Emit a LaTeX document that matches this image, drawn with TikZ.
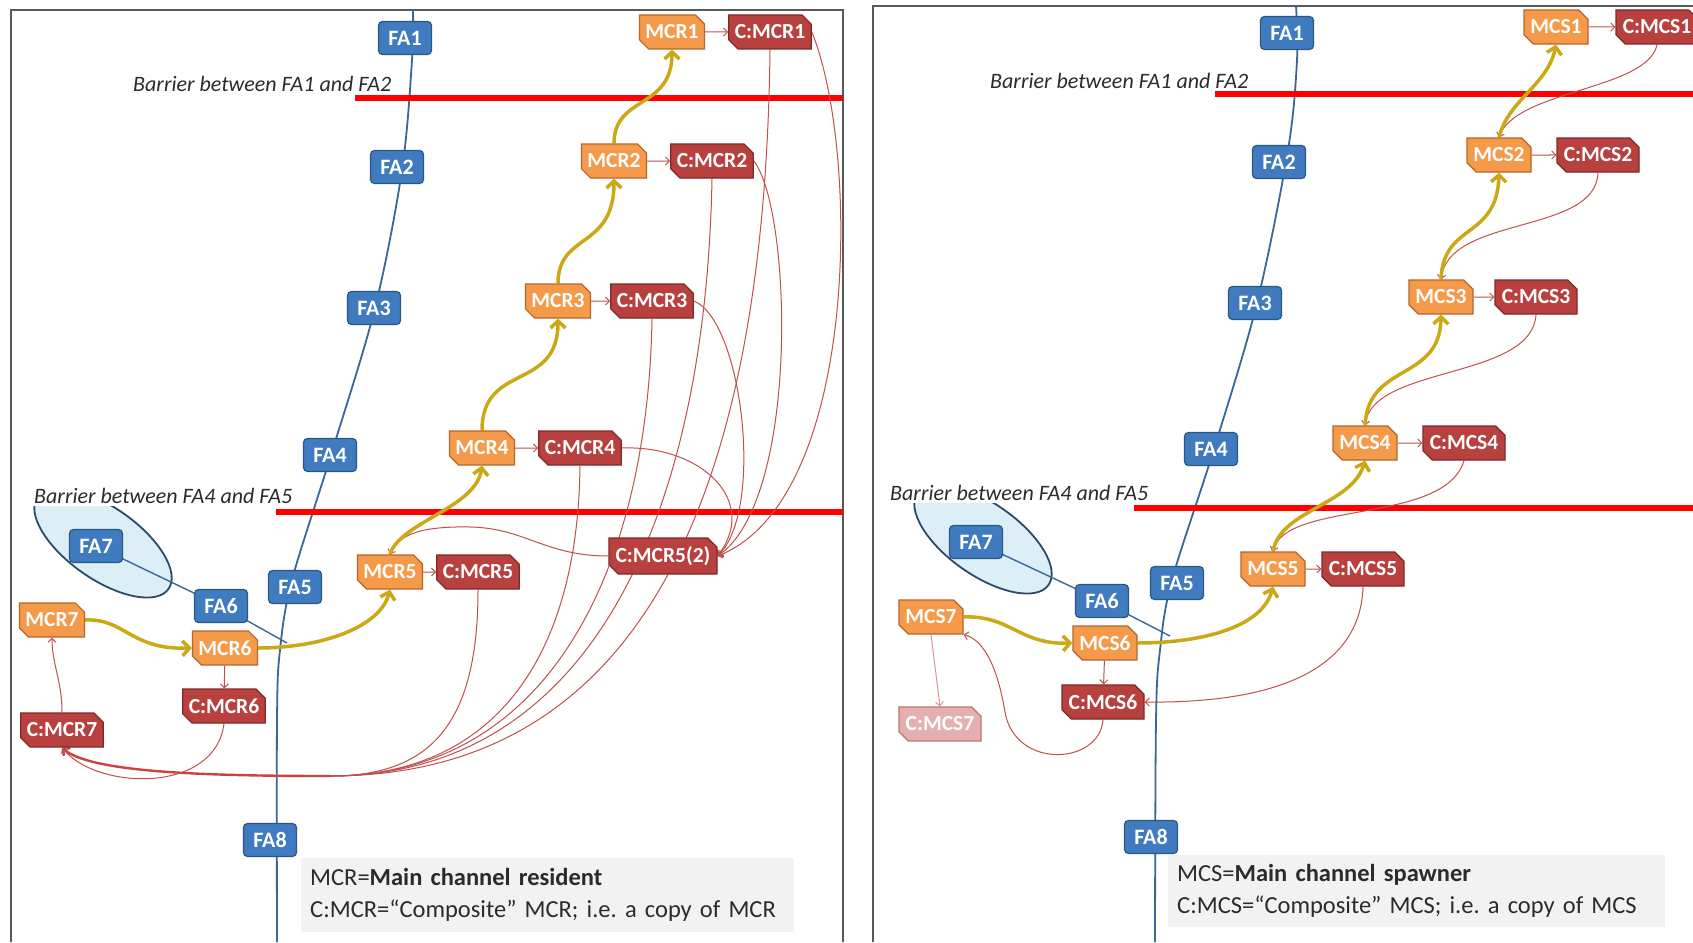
\documentclass[tikz,border=0pt]{standalone}
\usepackage{fontspec}
\setmainfont{Carlito}
\usetikzlibrary{shapes.misc,arrows.meta,backgrounds}
\frenchspacing
\definecolor{fablue}{HTML}{3F7BBE}
\definecolor{fablueb}{HTML}{2A5686}
\definecolor{mcor}{HTML}{F59A4A}
\definecolor{mcorb}{HTML}{B5662A}
\definecolor{cred}{HTML}{B8413F}
\definecolor{credb}{HTML}{7F2A28}
\definecolor{lpink}{HTML}{E4B0AF}
\definecolor{lpinkb}{HTML}{C07573}
\definecolor{ylw}{HTML}{CBA816}
\definecolor{thinr}{HTML}{C0504D}
\definecolor{tlgray}{HTML}{F2F2F2}
\definecolor{elfill}{HTML}{DCEFF6}
\definecolor{elline}{HTML}{2B4A6B}
\definecolor{tline}{HTML}{3A6797}
\definecolor{txtgray}{HTML}{2B2B2B}
\definecolor{barred}{HTML}{FF0000}
\newcommand\mynodefont{\fontsize{21.5}{21.5}\selectfont\bfseries}
\newcommand\myfafont{\fontsize{22}{22}\selectfont\bfseries}
\begin{document}
\begin{tikzpicture}[x=1pt,y=-1pt,
  fa/.style={draw=fablueb, line width=1.2pt, fill=fablue, rounded corners=4pt,
    minimum width=53pt, minimum height=33pt, inner sep=0pt, text=white, font=\myfafont},
  snipbase/.style={chamfered rectangle, chamfered rectangle corners={north east,south west},
    chamfered rectangle xsep=6pt, line width=1.2pt, inner sep=0pt, text=white,
    font=\mynodefont, minimum height=34pt},
  mcr/.style={snipbase, draw=mcorb, fill=mcor, minimum width=64pt},
  cmcr/.style={snipbase, draw=credb, fill=cred, minimum width=82pt},
  cfade/.style={snipbase, draw=lpinkb, fill=lpink, minimum width=82pt},
  thinarr/.style={draw=thinr, line width=1pt, -{Straight Barb[length=4pt,width=8pt]}},
  thinln/.style={draw=thinr, line width=1pt},
  bundle/.style={draw=thinr!85!red, line width=2.4pt, -{Straight Barb[length=5pt,width=10pt]}},
  yarr/.style={draw=ylw, line width=3.5pt, -{Straight Barb[length=7pt,width=15pt]}},
  tl/.style={draw=tline, line width=1.8pt},
  barrier/.style={draw=barred, line width=6pt},
  btext/.style={font=\fontsize{22}{22}\selectfont\itshape, text=txtgray, fill=white,
    inner xsep=1pt, inner ysep=3pt, anchor=base west},
  legend/.style={fill=tlgray, anchor=north west, inner xsep=9pt, inner ysep=0pt,
    font=\fontsize{24.5}{32}\selectfont, text=txtgray, align=left},
  panel/.style={draw=black!65, line width=1.3pt}
]
\useasboundingbox (0,0) rectangle (1693,942);

% ---------------- LEFT PANEL nodes ----------------
\node[fa] (FA1) at (405,38) {FA1};
\node[fa] (FA2) at (397,167) {FA2};
\node[fa] (FA3) at (374,308) {FA3};
\node[fa] (FA4) at (330,455) {FA4};
\node[fa] (FA5) at (295,587) {FA5};
\node[fa] (FA6) at (221,606) {FA6};
\node[fa] (FA7) at (96,546) {FA7};
\node[fa] (FA8) at (270,840) {FA8};

\node[mcr] (MCR1) at (672,32) {MCR1};
\node[cmcr] (CMCR1) at (770,32) {C:MCR1};
\node[mcr] (MCR2) at (614,161) {MCR2};
\node[cmcr] (CMCR2) at (712,161) {C:MCR2};
\node[mcr] (MCR3) at (558,301) {MCR3};
\node[cmcr] (CMCR3) at (652,301) {C:MCR3};
\node[mcr] (MCR4) at (482,448) {MCR4};
\node[cmcr] (CMCR4) at (580,448) {C:MCR4};
\node[mcr] (MCR5) at (390,572) {MCR5};
\node[cmcr] (CMCR5) at (478,572) {C:MCR5};
\node[cmcr, minimum width=108pt, minimum height=36pt] (CMCR52) at (663,556) {C:MCR5(2)};
\node[mcr] (MCR6) at (225,648) {MCR6};
\node[cmcr] (CMCR6) at (224,706) {C:MCR6};
\node[mcr] (MCR7) at (52,620) {MCR7};
\node[cmcr] (CMCR7) at (62,730) {C:MCR7};

\node[btext] (BL1) at (132,92) {Barrier between FA1 and FA2};
\node[btext] (BL2) at (33,503) {Barrier between FA4 and FA5};

\node[legend, minimum width=493pt, minimum height=74pt, text width=475pt] (LegL) at (301,858)
  {MCR=\textbf{Main channel resident}\\C:MCR=“Composite” MCR; i.e. a copy of MCR};

% ---------------- RIGHT PANEL nodes ----------------
\node[fa] (RFA1) at (1287,33) {FA1};
\node[fa] (RFA2) at (1279,162) {FA2};
\node[fa] (RFA3) at (1255,303) {FA3};
\node[fa] (RFA4) at (1211,449) {FA4};
\node[fa] (RFA5) at (1177,583) {FA5};
\node[fa] (RFA6) at (1102,601) {FA6};
\node[fa] (RFA7) at (976,542) {FA7};
\node[fa] (RFA8) at (1151,837) {FA8};

\node[mcr] (MCS1) at (1556,27) {MCS1};
\node[cmcr] (CMCS1) at (1657,27) {C:MCS1};
\node[mcr] (MCS2) at (1499,155) {MCS2};
\node[cmcr] (CMCS2) at (1598,155) {C:MCS2};
\node[mcr] (MCS3) at (1441,297) {MCS3};
\node[cmcr] (CMCS3) at (1536,297) {C:MCS3};
\node[mcr] (MCS4) at (1365,443) {MCS4};
\node[cmcr] (CMCS4) at (1464,443) {C:MCS4};
\node[mcr] (MCS5) at (1273,569) {MCS5};
\node[cmcr] (CMCS5) at (1363,569) {C:MCS5};
\node[mcr] (MCS6) at (1105,643) {MCS6};
\node[cmcr] (CMCS6) at (1103,702) {C:MCS6};
\node[mcr] (MCS7) at (931,617) {MCS7};
\node[cfade] (CMCS7) at (940,724) {C:MCS7};

\node[btext] (BR1) at (989,88) {Barrier between FA1 and FA2};
\node[btext] (BR2) at (889,500) {Barrier between FA4 and FA5};

\node[legend, minimum width=497pt, minimum height=72pt, text width=479pt] (LegR) at (1168,855)
  {MCS=\textbf{Main channel spawner}\\C:MCS=“Composite” MCS; i.e. a copy of MCS};

% ---------------- background drawings ----------------
\begin{scope}[on background layer]
\fill[white] (0,0) rectangle (1693,942);
% panels
\draw[panel] (11,942) -- (11,10) -- (843,10) -- (843,942);
\draw[panel] (873,942) -- (873,6) -- (1693,6);

% ellipses
\draw[draw=elline, fill=elfill, line width=1.8pt, rotate around={-35:(103,543)}]
  (103,543) ellipse [x radius=80pt, y radius=36pt];
\draw[draw=elline, fill=elfill, line width=1.8pt, rotate around={-35:(983,539)}]
  (983,539) ellipse [x radius=80pt, y radius=36pt];

% timelines
\coordinate (tlTopL) at (413,10);
\coordinate (tlBotL) at (277,942);
\draw[tl] plot[smooth, tension=0.55] coordinates {(tlTopL) (412,60) (402,170) (375,308) (331,455) (292,580) (280,650) (277,720) (tlBotL)};
\coordinate (jL) at (287,643);
\draw[tl, line width=1.4pt] (FA7.center) -- (FA6.center) -- (jL);

\coordinate (tlTopR) at (1296,6);
\coordinate (tlBotR) at (1155,942);
\draw[tl] plot[smooth, tension=0.55] coordinates {(tlTopR) (1297,60) (1288,150) (1257,303) (1214,449) (1172,580) (1160,650) (1156,720) (tlBotR)};
\coordinate (jR) at (1170,636);
\draw[tl, line width=1.4pt] (RFA7.center) -- (RFA6.center) -- (jR);

% barriers
\draw[barrier] (355,98) -- (843,98);
\draw[barrier] (276,512) -- (843,512);
\draw[barrier] (1215,94) -- (1693,94);
\draw[barrier] (1134,508) -- (1693,508);

% ---------- left thin arrows ----------
\draw[thinarr] (MCR1) -- (CMCR1);
\draw[thinarr] (MCR2) -- (CMCR2);
\draw[thinarr] (MCR3) -- (CMCR3);
\draw[thinarr] (MCR4) -- (CMCR4);
\draw[thinarr] (MCR5) -- (CMCR5);
\draw[thinarr] (MCR6) -- (CMCR6);
\draw[thinarr] (CMCR7.north) .. controls (62,680) and (52,665) .. (MCR7.south);

% into C:MCR5(2) from the right
\draw[thinarr] (CMCR1.east) .. controls (860,150) and (860,500) .. (CMCR52.east);
\draw[thinarr] (CMCR2.east) .. controls (792,210) and (800,500) .. (CMCR52.east);
\draw[thinarr] (CMCR3.east) .. controls (742,320) and (765,510) .. (CMCR52.east);
\draw[thinarr] (CMCR4.east) .. controls (700,445) and (760,500) .. (CMCR52.east);
\draw[thinarr] (CMCR52.west) .. controls (545,556) and (525,528) .. (470,527) .. controls (420,526) and (398,535) .. (MCR5.north);

% bundle into C:MCR7
\coordinate (J) at (330,776);
\draw[thinln] (CMCR1.south) .. controls (765,480) and (650,776) .. (J);
\draw[thinln] (CMCR2.south) .. controls (706,500) and (600,776) .. (J);
\draw[thinln] (CMCR3.south) .. controls (648,560) and (555,776) .. (J);
\draw[thinln] (CMCR4.south) .. controls (578,650) and (500,776) .. (J);
\draw[thinln] (CMCR5.south) .. controls (478,725) and (430,776) .. (J);
\draw[bundle] (J) .. controls (200,776) and (90,772) .. (CMCR7.south);
\draw[thinarr] (CMCR6.south) .. controls (215,795) and (95,790) .. (CMCR7.south);

% ---------- right thin arrows ----------
\draw[thinarr] (MCS1) -- (CMCS1);
\draw[thinarr] (MCS2) -- (CMCS2);
\draw[thinarr] (MCS3) -- (CMCS3);
\draw[thinarr] (MCS4) -- (CMCS4);
\draw[thinarr] (MCS5) -- (CMCS5);
\draw[thinarr] (MCS6) -- (CMCS6);
\draw[thinarr, draw=thinr!60] (MCS7.south) -- (CMCS7.north);
\draw[thinarr] (CMCS1.south) .. controls (1648,90) and (1515,90) .. (MCS2.north);
\draw[thinarr] (CMCS2.south) .. controls (1596,235) and (1448,215) .. (MCS3.north);
\draw[thinarr] (CMCS3.south) .. controls (1532,380) and (1372,365) .. (MCS4.north);
\draw[thinarr] (CMCS4.south) .. controls (1445,525) and (1285,500) .. (MCS5.north);
\draw[thinarr] (CMCS5.south) .. controls (1360,690) and (1230,703) .. (CMCS6.east);
\draw[thinarr] (CMCS6.south) .. controls (1100,765) and (1015,770) .. (1005,712) .. controls (998,670) and (985,640) .. (MCS7.south east);

% ---------- yellow main-channel arrows ----------
\draw[yarr] (MCR7.east) .. controls (125,618) and (130,650) .. (MCR6.west);
\draw[yarr] (MCR6.east) .. controls (320,648) and (380,628) .. (MCR5.south);
\draw[yarr] (MCR5.north) .. controls (400,522) and (476,508) .. (MCR4.south);
\draw[yarr] (MCR4.north) .. controls (482,362) and (558,392) .. (MCR3.south);
\draw[yarr] (MCR3.north) .. controls (558,232) and (614,250) .. (MCR2.south);
\draw[yarr] (MCR2.north) .. controls (614,95) and (672,110) .. (MCR1.south);

\draw[yarr] (MCS7.east) .. controls (1010,615) and (1020,645) .. (MCS6.west);
\draw[yarr] (MCS6.east) .. controls (1200,643) and (1262,628) .. (MCS5.south);
\draw[yarr] (MCS5.north) .. controls (1280,510) and (1352,505) .. (MCS4.south);
\draw[yarr] (MCS4.north) .. controls (1368,362) and (1440,382) .. (MCS3.south);
\draw[yarr] (MCS3.north) .. controls (1443,222) and (1497,240) .. (MCS2.south);
\draw[yarr] (MCS2.north) .. controls (1508,100) and (1548,85) .. (MCS1.south);
\end{scope}
\end{tikzpicture}
\end{document}
